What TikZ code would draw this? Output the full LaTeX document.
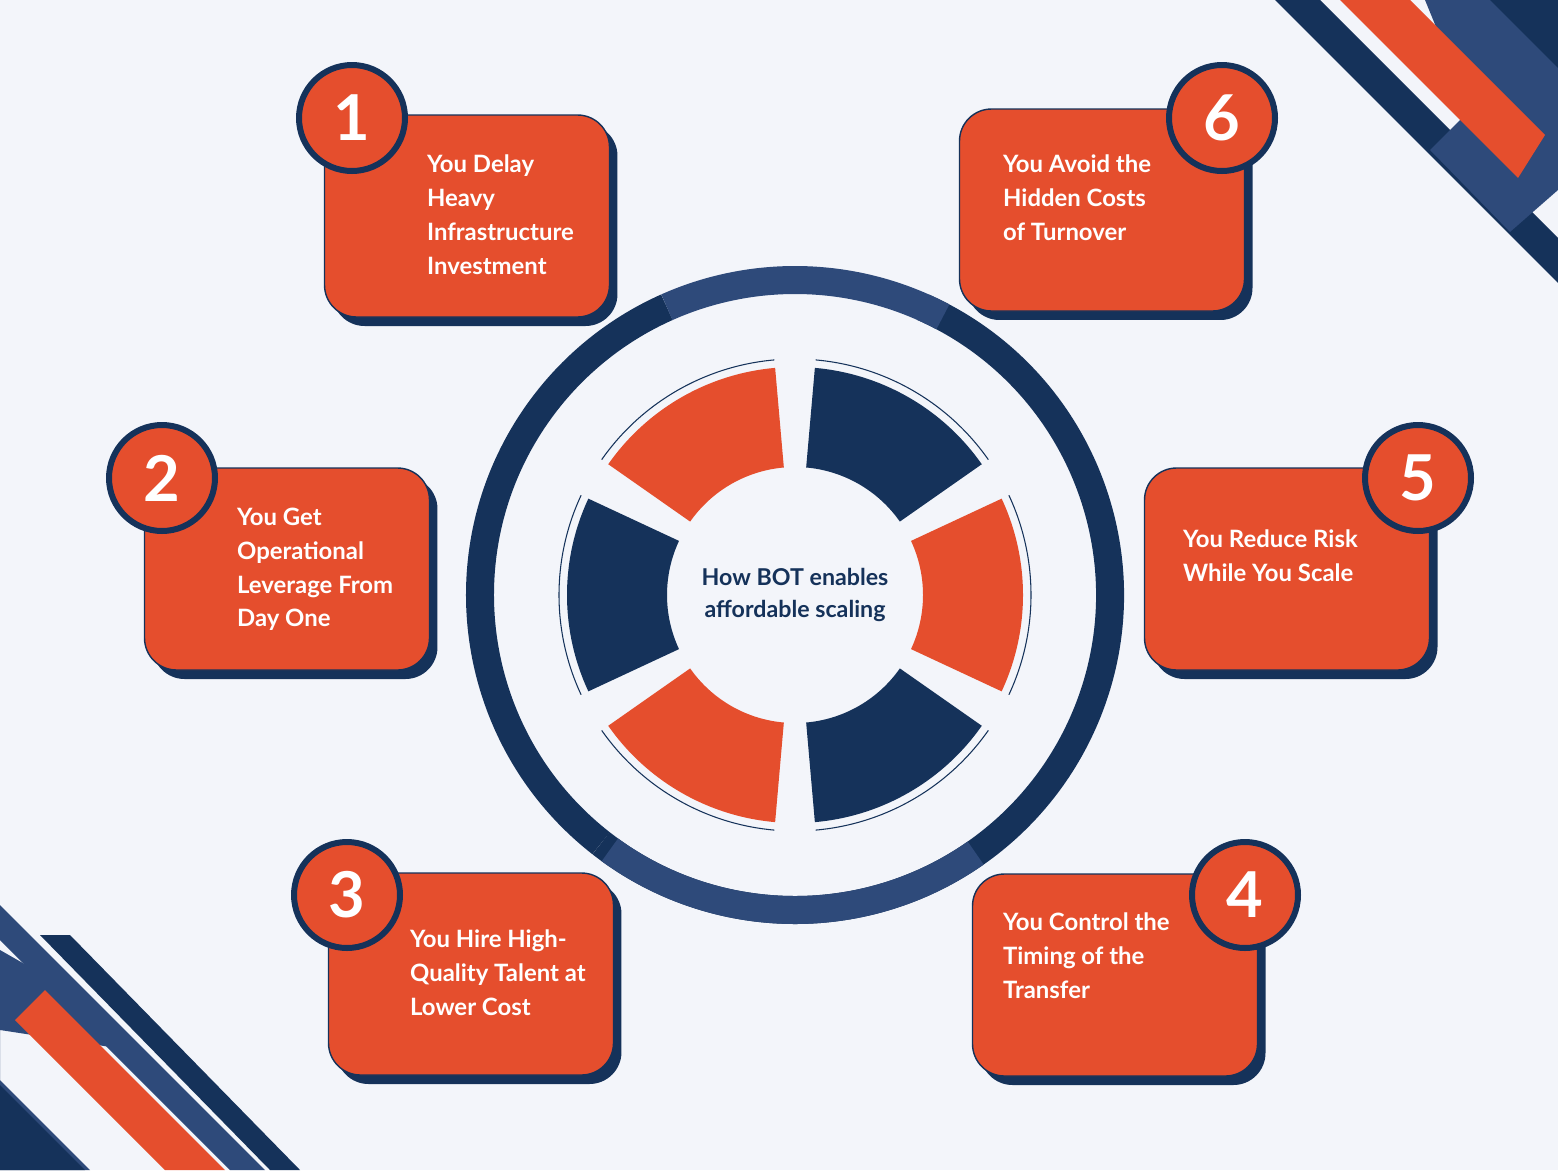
\documentclass[tikz,border=0pt]{standalone}
\usepackage{fontspec}
\setmainfont{Lato}
\usetikzlibrary{shadows}
\definecolor{paper}{HTML}{F3F5FA}
\definecolor{rust}{HTML}{E54E2D}
\definecolor{navy}{HTML}{15325A}
\definecolor{steel}{HTML}{2E4A7A}
\tikzset{
  card/.style={rectangle,rounded corners=1.6cm,fill=rust,draw=navy,line width=2pt,
    minimum width=14.25cm,minimum height=10.1cm,
    drop shadow={shadow xshift=.4cm,shadow yshift=-.45cm,fill=navy,opacity=1}},
  badge/.style={circle,fill=rust,draw=navy,line width=.3cm,minimum size=5.3cm,inner sep=0pt,
    text=white,font=\fontsize{90}{90}\selectfont\bfseries},
  cardtext/.style={anchor=north west,inner sep=0pt,text=white,align=left,
    font=\fontsize{34}{48}\selectfont\bfseries},
  ring/.style={line width=1.4cm},
}
\begin{document}
\begin{tikzpicture}[x=0.05cm,y=-0.05cm]
\useasboundingbox (0,0) rectangle (1558,1170);
\fill[paper] (0,0) rectangle (1558,1170);
% corner stripes
\begin{scope}
\clip (0,0) rectangle (1558,1170);
\fill[navy] (1275,0) -- (1320,0) -- (1558,238) -- (1558,283) -- cycle;
\fill[steel] (1425,0) -- (1500,0) -- (1558,58) -- (1558,190) -- (1510,232) -- (1430,150) -- (1470,110) -- cycle;
\fill[rust] (1340,0) -- (1410,0) -- (1545,135) -- (1518,178) -- cycle;
\fill[navy] (1490,0) -- (1558,0) -- (1558,68) -- cycle;
\fill[steel] (0,905) -- (0,940) -- (230,1170) -- (265,1170) -- cycle;
\fill[navy] (40,935) -- (70,935) -- (300,1170) -- (270,1170) -- cycle;
\fill[steel] (0,950) -- (0,1170) -- (90,1170) -- (0,1080) -- (0,1030) -- (130,1050) -- (70,990) -- cycle;
\fill[rust] (15,1020) -- (45,990) -- (225,1170) -- (165,1170) -- cycle;
\fill[navy] (0,1085) -- (0,1170) -- (85,1170) -- cycle;
\end{scope}
% outer ring
\coordinate (ctr) at (795,595);
\draw[ring,navy] (ctr) ++(-66:315) arc[start angle=-66,end angle=128,radius=315];
\draw[ring,navy] (ctr) ++(128:315) arc[start angle=128,end angle=246,radius=315];
\draw[ring,steel] (ctr) ++(-114:315) arc[start angle=-114,end angle=-62,radius=315];
\draw[ring,steel] (ctr) ++(55:315) arc[start angle=55,end angle=126,radius=315];
% inner segments
\foreach \a/\b/\col in {-145/-95/rust,-85/-35/navy,-25/25/rust,35/85/navy,95/145/rust,155/205/navy}{
  \fill[\col] (ctr) ++(\a:228) arc[start angle=\a,end angle=\b,radius=228]
    -- ([shift={(\b:128)}]ctr) arc[start angle=\b,end angle=\a,radius=128] -- cycle;
  \draw[navy,line width=1.5pt] (ctr) ++(\a:236) arc[start angle=\a,end angle=\b,radius=236];
}
\node[text=navy,align=center,font=\fontsize{33}{46}\selectfont\bfseries] (title) at (ctr)
  {How BOT enables\\affordable scaling};
% cards
\node[card] (c1) at (467,216) {};
\node[card] (c2) at (287,569) {};
\node[card] (c3) at (471,974) {};
\node[card] (c4) at (1115,975) {};
\node[card] (c5) at (1287,569) {};
\node[card] (c6) at (1102,210) {};
\node[cardtext] (t1) at (427,155) {You Delay\\Heavy\\Infrastructure\\Investment};
\node[cardtext] (t2) at (237,508) {You Get\\Operational\\Leverage From\\Day One};
\node[cardtext] (t3) at (410,930) {You Hire High-\\Quality Talent at\\Lower Cost};
\node[cardtext] (t4) at (1003,913) {You Control the\\Timing of the\\Transfer};
\node[cardtext] (t5) at (1183,530) {You Reduce Risk\\While You Scale};
\node[cardtext] (t6) at (1003,155) {You Avoid the\\Hidden Costs\\of Turnover};
\node[badge] (b1) at (352,118) {1};
\node[badge] (b2) at (162,478) {2};
\node[badge] (b3) at (347,895) {3};
\node[badge] (b4) at (1245,895) {4};
\node[badge] (b5) at (1418,478) {5};
\node[badge] (b6) at (1222,118) {6};
\end{tikzpicture}
\end{document}
